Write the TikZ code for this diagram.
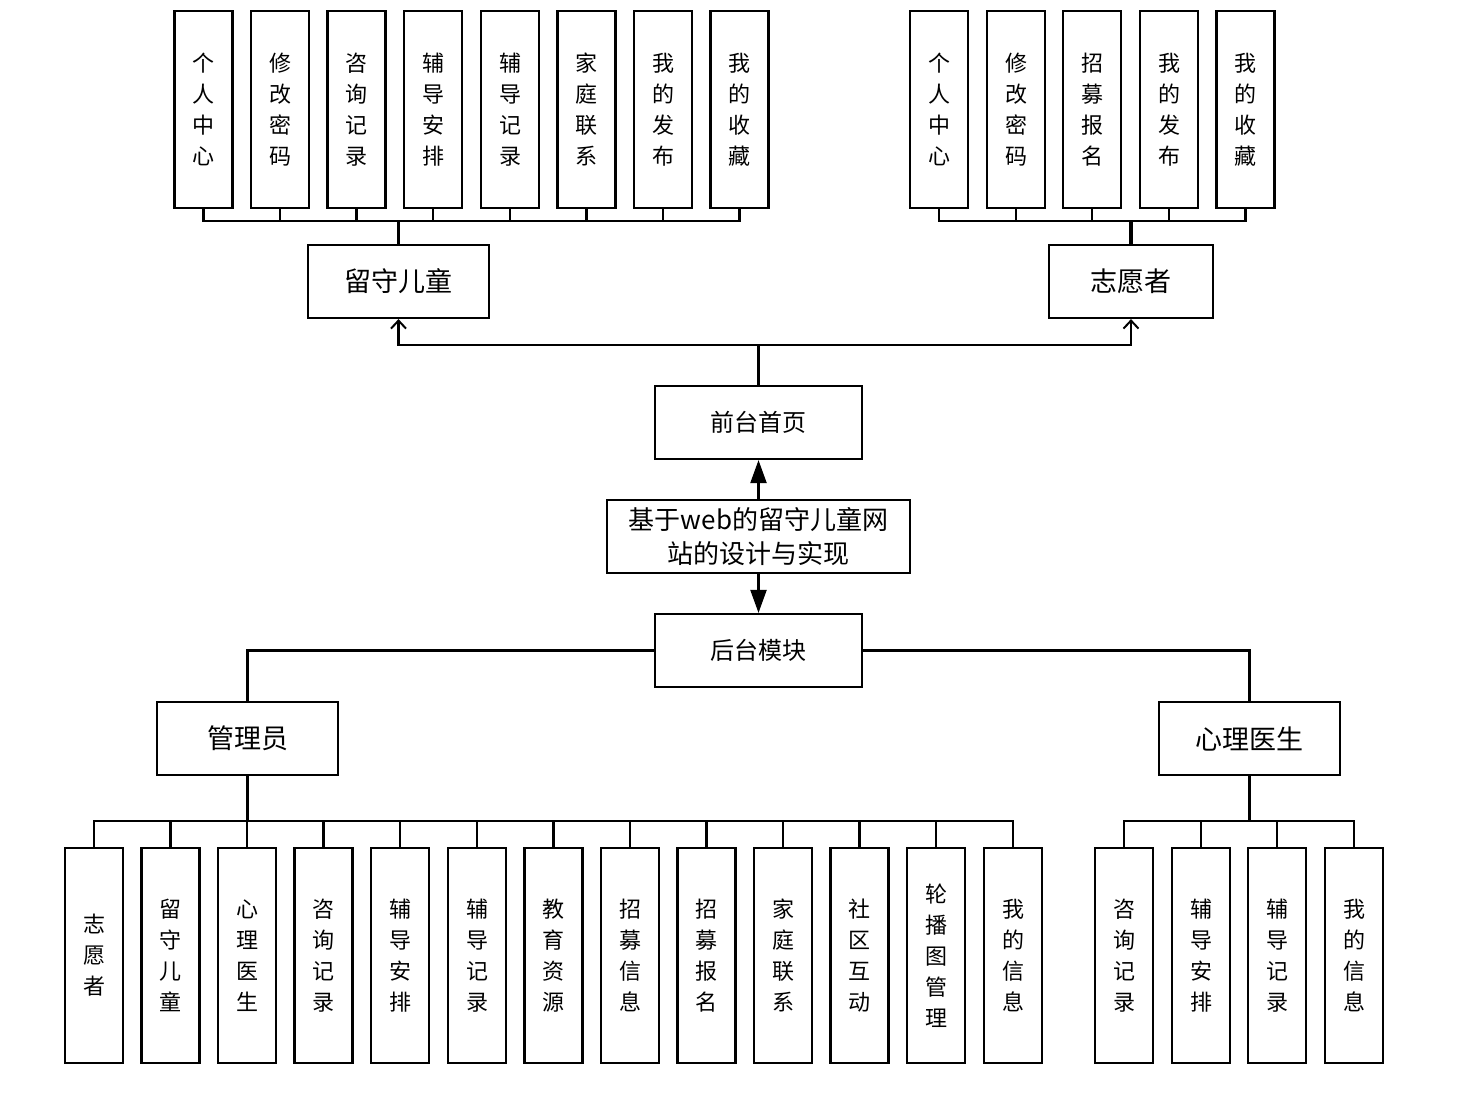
\documentclass[tikz,border=0pt]{standalone}
\usepackage{fontspec}
\newfontfamily\cjk{Noto Sans CJK SC}
\usetikzlibrary{arrows.meta}
\begin{document}
\begin{tikzpicture}[x=1pt,y=-1pt,
 box/.style={draw, line width=2.2pt, inner sep=0pt, align=center, font=\cjk\fontsize{27}{34}\selectfont},
 vtop/.style={draw, line width=2.2pt, inner sep=0pt, minimum width=58pt, minimum height=197pt, align=center, font=\cjk\fontsize{22}{31}\selectfont},
 vbot/.style={draw, line width=2.2pt, inner sep=0pt, minimum width=58pt, minimum height=215pt, align=center, font=\cjk\fontsize{22}{31}\selectfont},
 ln/.style={line width=2.2pt},
 thk/.style={line width=3.4pt}]
\useasboundingbox (0,0) rectangle (1458,1098);

% top-left children
\node[vtop] (t1) at (203.5,109.5) {个\\人\\中\\心};
\node[vtop] (t2) at (280,109.5) {修\\改\\密\\码};
\node[vtop] (t3) at (356.5,109.5) {咨\\询\\记\\录};
\node[vtop] (t4) at (433,109.5) {辅\\导\\安\\排};
\node[vtop] (t5) at (510,109.5) {辅\\导\\记\\录};
\node[vtop] (t6) at (586.5,109.5) {家\\庭\\联\\系};
\node[vtop] (t7) at (663,109.5) {我\\的\\发\\布};
\node[vtop] (t8) at (739.5,109.5) {我\\的\\收\\藏};

% top-right children
\node[vtop] (z1) at (939,109.5) {个\\人\\中\\心};
\node[vtop] (z2) at (1016,109.5) {修\\改\\密\\码};
\node[vtop] (z3) at (1092,109.5) {招\\募\\报\\名};
\node[vtop] (z4) at (1169,109.5) {我\\的\\发\\布};
\node[vtop] (z5) at (1245.5,109.5) {我\\的\\收\\藏};

% second level top
\node[box, minimum width=181pt, minimum height=73pt] (ch) at (398.5,281.5) {留守儿童};
\node[box, minimum width=164pt, minimum height=73pt] (zy) at (1131,281.5) {志愿者};

% centre
\node[box, minimum width=207pt, minimum height=73pt, font=\cjk\fontsize{24}{30}\selectfont] (qt) at (758.5,422.5) {前台首页};
\node[box, minimum width=303pt, minimum height=73pt, font=\cjk\fontsize{26}{34}\selectfont] (main) at (758.5,536.5) {基于web的留守儿童网\\站的设计与实现};
\node[box, minimum width=207pt, minimum height=73pt, font=\cjk\fontsize{24}{30}\selectfont] (ht) at (758.5,650.5) {后台模块};

% second level bottom
\node[box, minimum width=181pt, minimum height=73pt] (gl) at (247.5,738.5) {管理员};
\node[box, minimum width=181pt, minimum height=73pt] (xl) at (1249.5,738.5) {心理医生};

% bottom-left children
\node[vbot] (a1) at (94,955.5) {志\\愿\\者};
\node[vbot] (a2) at (170.5,955.5) {留\\守\\儿\\童};
\node[vbot] (a3) at (247,955.5) {心\\理\\医\\生};
\node[vbot] (a4) at (323.5,955.5) {咨\\询\\记\\录};
\node[vbot] (a5) at (400,955.5) {辅\\导\\安\\排};
\node[vbot] (a6) at (477,955.5) {辅\\导\\记\\录};
\node[vbot] (a7) at (553.5,955.5) {教\\育\\资\\源};
\node[vbot] (a8) at (630,955.5) {招\\募\\信\\息};
\node[vbot] (a9) at (706.5,955.5) {招\\募\\报\\名};
\node[vbot] (a10) at (783,955.5) {家\\庭\\联\\系};
\node[vbot] (a11) at (859.5,955.5) {社\\区\\互\\动};
\node[vbot] (a12) at (936,955.5) {轮\\播\\图\\管\\理};
\node[vbot] (a13) at (1013,955.5) {我\\的\\信\\息};

% bottom-right children
\node[vbot] (d1) at (1124,955.5) {咨\\询\\记\\录};
\node[vbot] (d2) at (1201,955.5) {辅\\导\\安\\排};
\node[vbot] (d3) at (1277,955.5) {辅\\导\\记\\录};
\node[vbot] (d4) at (1354,955.5) {我\\的\\信\\息};

% buses top
\coordinate (cb) at (398.5,221);
\draw[thk] (ch.north) -- (cb);
\foreach \i in {1,...,8} \draw[ln] (cb) -| (t\i.south);
\coordinate (zb) at (1131,221);
\draw[thk] (zy.north) -- (zb);
\foreach \i in {1,...,5} \draw[ln] (zb) -| (z\i.south);

% arrows from front page
\draw[ln,-{Straight Barb[length=8pt,width=15pt,line width=2pt]}] (qt.north) -- ++(0,-40) -| (ch.south);
\draw[ln,-{Straight Barb[length=8pt,width=15pt,line width=2pt]}] (qt.north) -- ++(0,-40) -| (zy.south);

% main arrows
\draw[ln,-{Triangle[length=23pt,width=16pt]}] (main.north) -- (qt.south);
\draw[ln,-{Triangle[length=23pt,width=16pt]}] (main.south) -- (ht.north);

% back-end branches
\draw[ln] (ht.west) -| (gl.north);
\draw[ln] (ht.east) -| (xl.north);

% buses bottom
\coordinate (gb) at (247.5,821);
\draw[thk] (gl.south) -- (gb);
\foreach \i in {1,...,13} \draw[ln] (gb) -| (a\i.north);
\coordinate (xb) at (1249.5,821);
\draw[thk] (xl.south) -- (xb);
\foreach \i in {1,...,4} \draw[ln] (xb) -| (d\i.north);
\end{tikzpicture}
\end{document}
